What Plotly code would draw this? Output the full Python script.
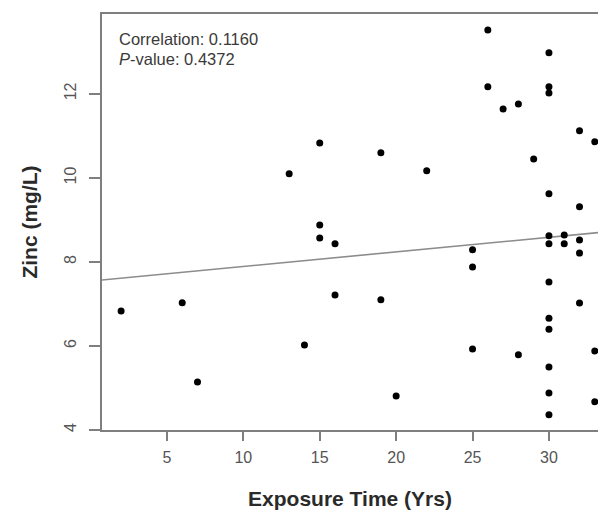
import plotly.graph_objects as go

# Data
exposure_years = [2, 6, 7, 13, 14, 15, 15, 15, 16, 16, 19, 19, 20, 22,
                  25, 25, 25, 26, 26, 27, 28, 28, 29,
                  30, 30, 30, 30, 30, 30, 30, 30, 30, 30, 30, 30,
                  31, 31, 32, 32, 32, 32, 32, 33, 33, 33]
zinc_mg_l = [6.83, 7.03, 5.14, 10.1, 6.02, 10.83, 8.88, 8.57, 8.43, 7.21, 10.6, 7.1, 4.81, 10.17,
             8.29, 7.88, 5.93, 13.52, 12.17, 11.64, 11.76, 5.79, 10.45,
             12.98, 12.17, 12.02, 9.62, 8.62, 8.43, 7.52, 6.66, 6.4, 5.5, 4.88, 4.36,
             8.64, 8.43, 11.12, 9.31, 8.52, 8.21, 7.02, 10.86, 5.88, 4.67]

fit_intercept = 7.545
fit_slope = 0.0347

x_range = [0.75, 33.21]
y_range = [4.0, 13.9]
x_ticks = [5, 10, 15, 20, 25, 30]
y_ticks = [4, 6, 8, 10, 12]

corr_text = "Correlation: 0.1160"
p_text = "<i>P</i>-value: 0.4372"

fig = go.Figure()

fit_x = [x_range[0], x_range[1]]
fit_y = [fit_intercept + fit_slope * v for v in fit_x]
fig.add_trace(go.Scatter(x=fit_x, y=fit_y, mode="lines",
                         line=dict(color="#8c8c8c", width=1.6),
                         hoverinfo="skip", showlegend=False, cliponaxis=False))

fig.add_trace(go.Scatter(x=exposure_years, y=zinc_mg_l, mode="markers",
                         marker=dict(color="black", size=7),
                         showlegend=False, cliponaxis=False))

ann_font = dict(family="Liberation Sans, Arial, sans-serif", size=16.5, color="#3a3a3a")
fig.add_annotation(x=1.75, y=13.31, xref="x", yref="y", text=corr_text,
                   showarrow=False, xanchor="left", yanchor="middle", font=ann_font)
fig.add_annotation(x=1.75, y=12.83, xref="x", yref="y", text=p_text,
                   showarrow=False, xanchor="left", yanchor="middle", font=ann_font)

axis_font = dict(family="Liberation Sans, Arial, sans-serif", size=16, color="#555555")
title_font = dict(family="Liberation Sans, Arial, sans-serif", size=21, color="#2a2a2a")

fig.update_layout(
    width=590, height=502,
    margin=dict(l=94, r=0, t=6, b=80),
    paper_bgcolor="white", plot_bgcolor="white",
    xaxis=dict(range=x_range, tickvals=x_ticks, ticktext=[str(v) for v in x_ticks],
               showgrid=False, zeroline=False,
               showline=True, linecolor="#7f7f7f", linewidth=2, mirror=True,
               ticks="outside", ticklen=9, tickwidth=1.5, tickcolor="#7f7f7f",
               tickfont=axis_font, ticklabelstandoff=3,
               title=dict(text="<b>Exposure Time (Yrs)</b>", font=title_font, standoff=27)),
    yaxis=dict(range=y_range, tickvals=y_ticks, ticktext=[str(v) for v in y_ticks],
               showgrid=False, zeroline=False,
               showline=True, linecolor="#7f7f7f", linewidth=2,
               ticks="outside", ticklen=11, tickwidth=1.5, tickcolor="#7f7f7f",
               tickangle=-90, tickfont=axis_font, ticklabelstandoff=7,
               title=dict(text="<b>Zinc (mg/L)</b>", font=title_font, standoff=18)),
)

fig.write_html("out.html")
